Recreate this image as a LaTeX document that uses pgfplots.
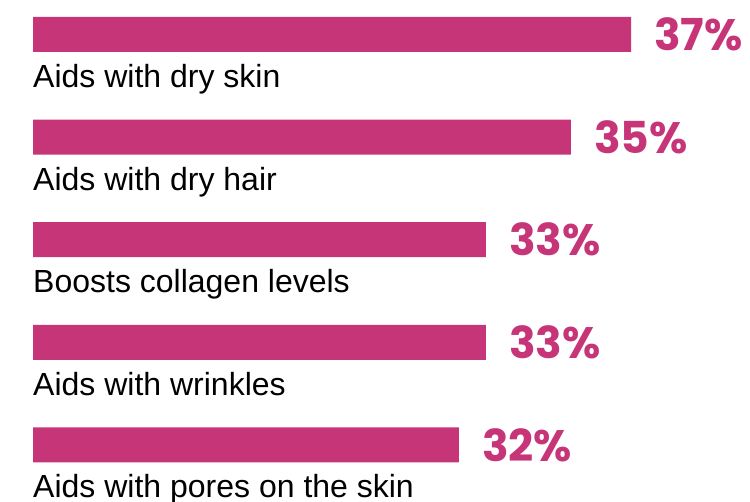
\documentclass[border=0pt]{standalone}
\usepackage{pgfplots}
\pgfplotsset{compat=1.18}
\usepackage{fontspec}
\setmainfont{Liberation Sans}
\newfontfamily\pctfont{Poppins}

\definecolor{barpink}{HTML}{C63578}

% bar lengths (percent shares; labels are the rounded values)
\pgfplotstableread{
idx value
0 37.09
1 35.37
2 32.94
3 32.94
4 32.17
}\benefits

\begin{document}
\begin{tikzpicture}
\useasboundingbox (-33pt,0) rectangle (717pt,502pt);
\begin{axis}[
    scale only axis,
    width=717pt, height=502pt,
    hide axis,
    clip=false,
    xbar,
    y dir=reverse,
    xmin=20, xmax=40.486,
    ymin=-0.336, ymax=4.557,
    bar width=35pt,
    bar shift=0pt,
    nodes near coords={\pgfmathprintnumber[fixed,precision=0,assume math mode=true]{\pgfplotspointmeta}\%},
    every node near coord/.append style={
        anchor=west, inner sep=0pt, xshift=23pt,
        font=\pctfont\bfseries\fontsize{44}{44}\selectfont,
        text=barpink},
]
\addplot[fill=barpink, draw=none] table[x=value, y=idx] {\benefits};
\foreach \lab [count=\i from 0] in {Aids with dry skin, Aids with dry hair, Boosts collagen levels, Aids with wrinkles, Aids with pores on the skin}{
    \edef\tmp{\noexpand\node[anchor=base west, inner sep=0pt, font=\noexpand\fontsize{32}{34}\noexpand\selectfont]
        at (axis cs:20,\i) [yshift=-53pt] {\lab};}
    \tmp
}
\end{axis}
\end{tikzpicture}
\end{document}
